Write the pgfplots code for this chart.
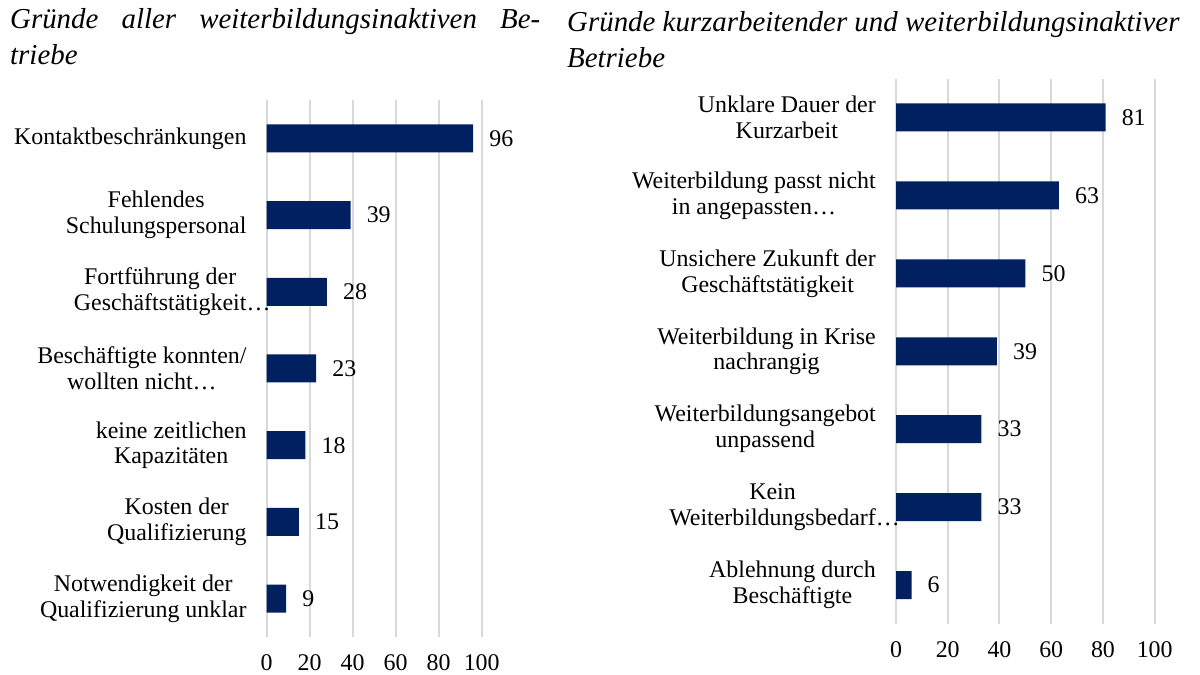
\documentclass[border=0pt]{standalone}
\usepackage{fontspec}
\setmainfont{Liberation Serif}
\usepackage{pgfplots}
\pgfplotsset{compat=1.18}
\definecolor{navy}{HTML}{002060}
\definecolor{gridgray}{HTML}{D9D9D9}
\pgfplotsset{
  mybar/.style={
    scale only axis, xmin=0, xmax=100, ymin=-0.5, ymax=6.5,
    xtick={0,20,...,100}, ytick={0,...,6},
    xmajorgrids, major grid style={gridgray, line width=2bp},
    axis line style={draw=none}, major tick length=0,
    tick label style={font=\fontsize{24}{26}\selectfont},
    /pgf/number format/assume math mode=true,
    xticklabel style={anchor=base, inner sep=0, yshift=-33bp},
    yticklabel style={anchor=east, inner sep=0, xshift=-20bp, align=center},
    xbar, bar width=28bp, point meta=x,
    nodes near coords,
    nodes near coords style={anchor=west, inner sep=0, xshift=16bp, font=\fontsize{24}{26}\selectfont, /pgf/number format/assume math mode=true},
    clip=false,
  }
}
\begin{document}
\begin{tikzpicture}
\useasboundingbox (0bp,0bp) rectangle (1200bp,675bp);
\node[anchor=base west, inner sep=0, font=\fontsize{29}{35}\selectfont\itshape] at (10bp,646bp) {\makebox[530bp][s]{Gründe aller weiterbildungsinaktiven Be-}};
\node[anchor=base west, inner sep=0, font=\fontsize{29}{35}\selectfont\itshape] at (10bp,610bp) {triebe};
\node[anchor=base west, inner sep=0, font=\fontsize{29}{35}\selectfont\itshape] at (567bp,643bp) {Gründe kurzarbeitender und weiterbildungsinaktiver};
\node[anchor=base west, inner sep=0, font=\fontsize{29}{35}\selectfont\itshape] at (567bp,607bp) {Betriebe};

\begin{axis}[mybar, at={(266.7bp,38bp)}, anchor=south west, width=215bp, height=537bp,
  yticklabels={{Notwendigkeit der\\Qualifizierung unklar},{Kosten der\\Qualifizierung},{keine zeitlichen\\Kapazitäten},{Beschäftigte konnten/\\wollten nicht…},{Fortführung der\\Geschäftstätigkeit\rlap{…}},{Fehlendes\\Schulungspersonal},{Kontaktbeschränkungen}}]
\addplot[fill=navy, draw=none] coordinates {(9,0) (15,1) (18,2) (23,3) (28,4) (39,5) (96,6)};
\end{axis}

\begin{axis}[mybar, at={(896bp,51bp)}, anchor=south west, width=258.7bp, height=545.5bp,
  yticklabels={{Ablehnung durch\\Beschäftigte},{Kein\\Weiterbildungsbedarf\rlap{…}},{Weiterbildungsangebot\\unpassend},{Weiterbildung in Krise\\nachrangig},{Unsichere Zukunft der\\Geschäftstätigkeit},{Weiterbildung passt nicht\\in angepassten…},{Unklare Dauer der\\Kurzarbeit}}]
\addplot[fill=navy, draw=none] coordinates {(6,0) (33,1) (33,2) (39,3) (50,4) (63,5) (81,6)};
\end{axis}
\end{tikzpicture}
\end{document}
